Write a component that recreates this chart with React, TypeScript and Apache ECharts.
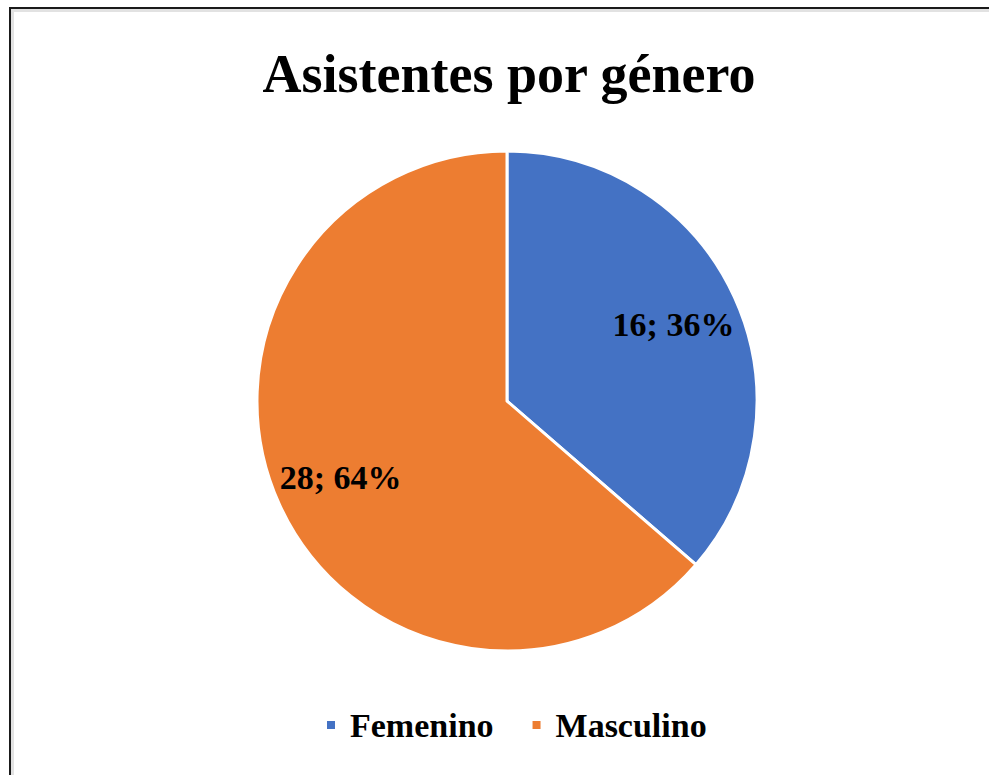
import React, { useEffect, useRef } from "react";
import * as echarts from "echarts";

const categories = ["Femenino", "Masculino"];
const values = [16, 28];
const colors = ["#4472C4", "#ED7D31"];
const titleText = "Asistentes por género";

export default function App() {
  const ref = useRef<HTMLDivElement>(null);
  useEffect(() => {
    if (!ref.current) return;
    const chart = echarts.init(ref.current, null, { renderer: "svg" });
    const data = categories.map((name, i) => ({
      name,
      value: values[i],
      itemStyle: { color: colors[i] },
    }));
    const total = values.reduce((a, b) => a + b, 0);
    const serif = "'Liberation Serif', 'Times New Roman', serif";
    chart.setOption({
      animation: false,
      title: {
        text: titleText,
        left: 504,
        textAlign: "center",
        top: 42,
        textStyle: { fontFamily: serif, fontWeight: "bold", fontSize: 54, color: "#000" },
      },
      legend: {
        data: categories,
        top: 703,
        left: 320,
        icon: "rect",
        itemWidth: 10,
        itemHeight: 10,
        itemGap: 37,
        textStyle: { fontFamily: serif, fontWeight: "bold", fontSize: 34, color: "#000", padding: [0, 0, 0, 9] },
      },
      series: [
        {
          type: "pie",
          center: [507, 401],
          radius: 250,
          startAngle: 90,
          clockwise: true,
          silent: true,
          label: { show: false },
          labelLine: { show: false },
          itemStyle: { borderColor: "#ffffff", borderWidth: 3 },
          data,
        },
        {
          type: "pie",
          center: [507, 401],
          radius: [110, 250],
          startAngle: 90,
          clockwise: true,
          silent: true,
          itemStyle: { color: "rgba(0,0,0,0)" },
          label: {
            show: true,
            position: "inside",
            fontFamily: serif,
            fontWeight: "bold",
            fontSize: 34,
            color: "#000",
            formatter: (p: any) => `${p.value}; ${Math.round((p.value / total) * 100)}%`,
          },
          labelLine: { show: false },
          data: categories.map((name, i) => ({ name, value: values[i] })),
        },
      ],
    });
    return () => chart.dispose();
  }, []);
  return (
    <div style={{ position: "fixed", left: 0, top: 0, width: 989, height: 775, background: "#fff" }}>
      <div ref={ref} style={{ position: "absolute", left: 0, top: 0, width: 989, height: 775 }} />
      <div style={{ position: "absolute", left: 9, top: 7, width: 980, height: 2, background: "#1a1a1a" }} />
      <div style={{ position: "absolute", left: 9, top: 7, width: 2, height: 768, background: "#1a1a1a" }} />
      <div style={{ position: "absolute", left: 11, top: 9, width: 978, height: 3, background: "#e2e2e2" }} />
      <div style={{ position: "absolute", left: 11, top: 9, width: 3, height: 766, background: "#e2e2e2" }} />
    </div>
  );
}
